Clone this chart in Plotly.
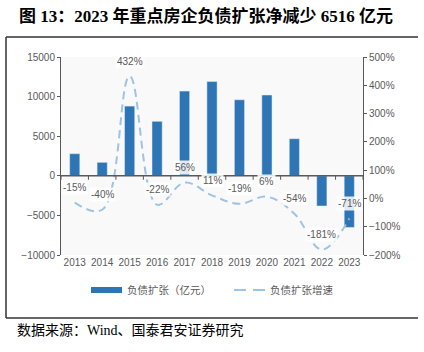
import plotly.graph_objects as go

years = ["2013", "2014", "2015", "2016", "2017", "2018", "2019", "2020", "2021", "2022", "2023"]
debt_expansion = [2790, 1700, 8800, 6880, 10700, 11900, 9600, 10200, 4680, -3810, -6516]
growth_pct = [-15, -40, 432, -22, 56, 11, -19, 6, -54, -181, -71]
growth_labels = ["-15%", "-40%", "432%", "-22%", "56%", "11%", "-19%", "6%", "-54%", "-181%", "-71%"]

W, H = 424, 352
L, R, T, B = 61, 363, 57, 255

def px(x):
    return (x - L) / (R - L)

def py(y):
    return (B - y) / (B - T)

BAR_C = "#2e75b6"
LINE_C = "#9dc3e6"
TXT_C = "#595959"
AX_C = "#595959"
FONT = "Liberation Sans, Arial, Noto Sans CJK SC"

fig = go.Figure()
fig.add_trace(go.Bar(x=years, y=debt_expansion, marker_color=BAR_C, width=0.37,
                     name="负债扩张（亿元）", showlegend=False, hoverinfo="skip"))
fig.add_trace(go.Scatter(x=years, y=growth_pct, yaxis="y2", mode="lines",
                         line=dict(color=LINE_C, width=2, dash="8px,5px", shape="spline", smoothing=1.1),
                         name="负债扩张增速", showlegend=False, hoverinfo="skip"))

annotations = []
for i, (g, lab) in enumerate(zip(growth_pct, growth_labels)):
    annotations.append(dict(x=i, y=g, xref="x", yref="y2", text=lab, showarrow=False,
                            yshift=15, font=dict(size=10, color=TXT_C, family=FONT),
                            bgcolor="rgba(255,255,255,0.85)", borderpad=1))

# title
annotations.append(dict(x=px(17), y=py(16), xref="paper", yref="paper", xanchor="left", yanchor="middle",
                        text="<b>图 13：2023 年重点房企负债扩张净减少 6516 亿元</b>", showarrow=False,
                        font=dict(size=17, color="#000000", family="Liberation Serif, Noto Sans CJK SC")))
# source
annotations.append(dict(x=px(15), y=py(330), xref="paper", yref="paper", xanchor="left", yanchor="middle",
                        text="数据来源：Wind、国泰君安证券研究", showarrow=False,
                        font=dict(size=14, color="#000000", family="Liberation Serif, Noto Sans CJK SC")))
# legend texts
annotations.append(dict(x=px(125), y=py(290), xref="paper", yref="paper", xanchor="left", yanchor="middle",
                        text="负债扩张（亿元）", showarrow=False, font=dict(size=10.5, color=TXT_C, family=FONT)))
annotations.append(dict(x=px(268), y=py(290), xref="paper", yref="paper", xanchor="left", yanchor="middle",
                        text="负债扩张增速", showarrow=False, font=dict(size=10.5, color=TXT_C, family=FONT)))

shapes = [
    # frame lines
    dict(type="line", xref="paper", yref="paper", x0=px(6), x1=px(418), y0=py(37), y1=py(37),
         line=dict(color="#333333", width=1.5)),
    dict(type="line", xref="paper", yref="paper", x0=px(6), x1=px(6), y0=py(37), y1=py(318),
         line=dict(color="#333333", width=1.5)),
    dict(type="line", xref="paper", yref="paper", x0=px(6), x1=px(418), y0=py(318), y1=py(318),
         line=dict(color="#333333", width=1.5)),
    # legend swatches
    dict(type="rect", xref="paper", yref="paper", x0=px(91), x1=px(122), y0=py(287), y1=py(293),
         fillcolor=BAR_C, line=dict(width=0)),
    dict(type="line", xref="paper", yref="paper", x0=px(234), x1=px(265), y0=py(290), y1=py(290),
         line=dict(color=LINE_C, width=2, dash="12px,7px")),
    # category axis line at zero
    dict(type="line", xref="paper", yref="y", x0=0, x1=1, y0=0, y1=0,
         line=dict(color=AX_C, width=1.5), layer="above"),
]
# tick marks between categories on the zero line
for i in range(len(years) + 1):
    shapes.append(dict(type="line", xref="x", yref="y", ysizemode="pixel", yanchor=0,
                       x0=i - 0.5, x1=i - 0.5, y0=0, y1=-4, line=dict(color=AX_C, width=1)))

fig.update_layout(
    width=W, height=H,
    margin=dict(l=L, r=W - R, t=T, b=H - B),
    paper_bgcolor="white", plot_bgcolor="#f9f9f9",
    showlegend=False,
    font=dict(family=FONT, color=TXT_C, size=10),
    xaxis=dict(type="category", range=[-0.5, 10.5], showline=False, ticks="", showgrid=False,
               tickfont=dict(size=10, color=TXT_C)),
    yaxis=dict(range=[-10000, 15000], dtick=5000, tickformat="d", showgrid=False, zeroline=False,
               showline=True, linecolor=AX_C, linewidth=1, ticks="outside", ticklen=3, tickcolor=AX_C,
               tickfont=dict(size=10, color=TXT_C)),
    yaxis2=dict(range=[-200, 500], dtick=100, ticksuffix="%", overlaying="y", side="right",
                showgrid=False, zeroline=False, showline=True, linecolor=AX_C, linewidth=1,
                ticks="outside", ticklen=3, tickcolor=AX_C, tickfont=dict(size=10, color=TXT_C)),
    annotations=annotations,
    shapes=shapes,
)

fig.write_html("out.html")
